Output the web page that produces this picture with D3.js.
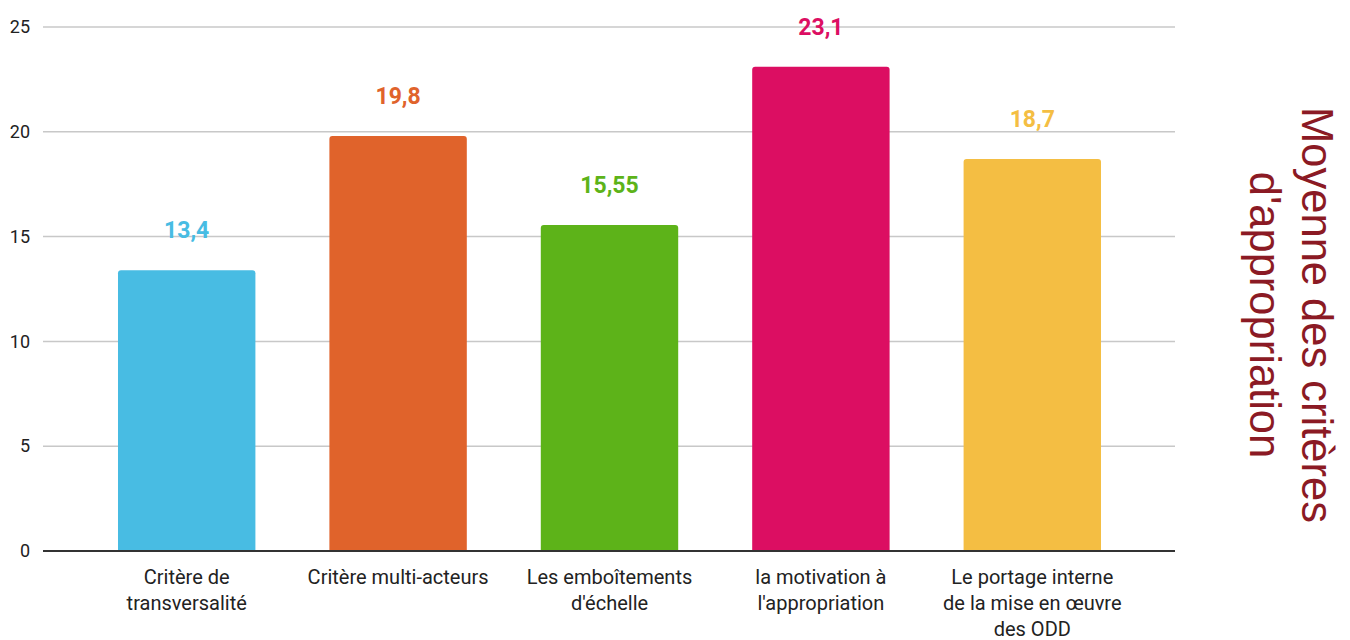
<!DOCTYPE html>
<html>
<head>
<meta charset="utf-8">
<script src="https://cdn.jsdelivr.net/npm/d3@7"></script>
<style>
  html, body { margin: 0; padding: 0; background: #fff; }
  svg text { font-family: Roboto, "Noto Sans", sans-serif; }
</style>
</head>
<body>
<div id="chart"></div>
<script>
(() => {
  const categories = [
    ['Critère de', 'transversalité'],
    ['Critère multi-acteurs'],
    ['Les emboîtements', "d'échelle"],
    ['la motivation à', "l'appropriation"],
    ['Le portage interne', 'de la mise en œuvre', 'des ODD']
  ];
  const values = [13.4, 19.8, 15.55, 23.1, 18.7];
  const valueLabels = ['13,4', '19,8', '15,55', '23,1', '18,7'];
  const colors = ['#48bce3', '#e0632b', '#5db319', '#dc0e62', '#f4be43'];
  const yTicks = [0, 5, 10, 15, 20, 25];
  const titleLines = ['Moyenne des critères', "d'appropriation"];

  const W = 1350, H = 640;
  const left = 43, right = 1175, top = 27, bottom = 551;

  const svg = d3.select('#chart')
    .append('svg')
      .attr('width', W)
      .attr('height', H);

  const x = d3.scaleBand()
    .domain(d3.range(values.length))
    .range([81, 1138])
    .paddingInner(0.35)
    .paddingOuter(0.175);

  const y = d3.scaleLinear()
    .domain([0, 25])
    .range([bottom, top]);

  // grid lines
  svg.append('g')
    .selectAll('line')
    .data(yTicks.filter(d => d > 0))
    .enter().append('line')
      .attr('x1', left)
      .attr('x2', right)
      .attr('y1', d => y(d))
      .attr('y2', d => y(d))
      .attr('stroke', '#c8c8c8')
      .attr('stroke-width', 1.5);

  // y axis labels
  const yAxis = svg.append('g')
    .attr('transform', `translate(${left},0)`)
    .call(d3.axisLeft(y).tickValues(yTicks).tickSize(0).tickPadding(13));
  yAxis.select('.domain').remove();
  yAxis.selectAll('text')
    .attr('font-size', 18)
    .attr('fill', '#222')
    .style('font-family', 'Roboto, sans-serif');

  // bars
  svg.selectAll('.bar')
    .data(values)
    .enter().append('path')
      .attr('class', 'bar')
      .attr('fill', (d, i) => colors[i])
      .attr('d', (d, i) => {
        const x0 = x(i), w = x.bandwidth(), y0 = y(d), y1 = y(0), r = 3;
        return `M${x0},${y1}V${y0 + r}Q${x0},${y0} ${x0 + r},${y0}H${x0 + w - r}Q${x0 + w},${y0} ${x0 + w},${y0 + r}V${y1}Z`;
      });

  // baseline
  svg.append('line')
    .attr('x1', left)
    .attr('x2', right)
    .attr('y1', y(0))
    .attr('y2', y(0))
    .attr('stroke', '#333')
    .attr('stroke-width', 2);

  // value labels
  svg.selectAll('.val')
    .data(values)
    .enter().append('text')
      .attr('class', 'val')
      .attr('x', (d, i) => x(i) + x.bandwidth() / 2)
      .attr('y', d => y(d) - 32)
      .attr('text-anchor', 'middle')
      .attr('font-size', 23)
      .attr('font-weight', 'bold')
      .attr('fill', (d, i) => colors[i])
      .text((d, i) => valueLabels[i]);

  // category labels
  const cat = svg.selectAll('.cat')
    .data(categories)
    .enter().append('text')
      .attr('class', 'cat')
      .attr('x', (d, i) => x(i) + x.bandwidth() / 2)
      .attr('y', 584)
      .attr('text-anchor', 'middle')
      .attr('font-size', 20)
      .attr('fill', '#222');
  cat.selectAll('tspan')
    .data(d => d)
    .enter().append('tspan')
      .attr('x', function () { return this.parentNode.getAttribute('x'); })
      .attr('dy', (d, i) => i === 0 ? 0 : 26)
      .text(d => d);

  // right title
  const title = svg.append('text')
    .attr('transform', 'translate(1302,315) rotate(90)')
    .attr('text-anchor', 'middle')
    .attr('font-size', 43.5)
    .attr('fill', '#8b1a24')
    .style('font-family', '"Liberation Sans", Arial, sans-serif');
  title.selectAll('tspan')
    .data(titleLines)
    .enter().append('tspan')
      .attr('x', 0)
      .attr('y', (d, i) => i * 52)
      .text(d => d);
})();
</script>
</body>
</html>
